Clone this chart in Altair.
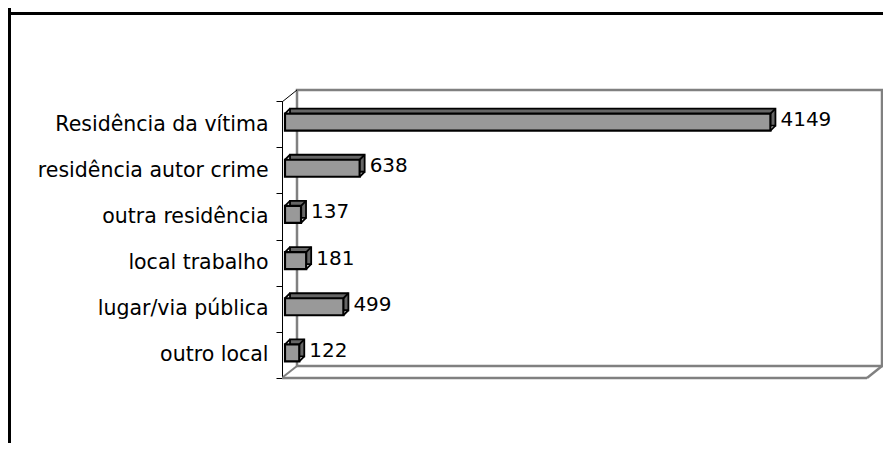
import altair as alt
import pandas as pd

categories = ["Residência da vítima", "residência autor crime", "outra residência",
              "local trabalho", "lugar/via pública", "outro local"]
values = [4149, 638, 137, 181, 499, 122]

df = pd.DataFrame({"cat": categories, "v": values, "z": [0] * len(values)})

W, H = 585, 277
XMAX = 5000
FONT = "DejaVu Sans"
DEPTH = 5
BAR_H = 17
BX = 3      # bar x shift from axis
BY = -2     # bar y shift
one = alt.Data(values=[{"a": 1}])

xs = alt.Scale(domain=[0, XMAX], nice=False, zero=True)
ysort = categories

# outer frame lines (top & left)
border_top = alt.Chart(one).mark_rule(color="black", strokeWidth=3).encode(
    x=alt.value(-274), x2=alt.value(W + 16), y=alt.value(-87.5))
border_left = alt.Chart(one).mark_rule(color="black", strokeWidth=3).encode(
    x=alt.value(-272.5), y=alt.value(-93), y2=alt.value(H + 65))

# back wall
wall = alt.Chart(one).mark_rect(filled=False, stroke="#808080", strokeWidth=2.5).encode(
    x=alt.value(15), x2=alt.value(W + 15), y=alt.value(-11), y2=alt.value(H - 12))
floor_front = alt.Chart(one).mark_rule(color="#808080", strokeWidth=2.5).encode(
    x=alt.value(0), x2=alt.value(W), y=alt.value(H))
floor_right = alt.Chart(one).mark_rule(color="#808080", strokeWidth=2.5).encode(
    x=alt.value(W), x2=alt.value(W + 15), y=alt.value(H), y2=alt.value(H - 12))
floor_left = alt.Chart(one).mark_rule(color="#808080", strokeWidth=2).encode(
    x=alt.value(1), x2=alt.value(15), y=alt.value(H - 1), y2=alt.value(H - 12))
top_diag = alt.Chart(one).mark_rule(color="black", strokeWidth=1).encode(
    x=alt.value(0), x2=alt.value(15), y=alt.value(1), y2=alt.value(-11))

base = alt.Chart(df)
yenc = alt.Y("cat:N", sort=ysort, title=None,
             scale=alt.Scale(paddingInner=0, paddingOuter=0),
             axis=alt.Axis(domain=True, domainColor="black", domainWidth=1,
                           ticks=True, tickBand="extent", tickSize=6, tickColor="black",
                           labelFont=FONT, labelFontSize=20.5, labelColor="black",
                           labelPadding=8, grid=False, labelLimit=400))

bar_back = base.mark_bar(size=BAR_H, fill="#666666", stroke="black", strokeWidth=1.8,
                         xOffset=BX + DEPTH, x2Offset=BX + DEPTH, yOffset=BY - DEPTH).encode(
    x=alt.X("v:Q", scale=xs, axis=None), x2=alt.X2("z"), y=yenc)

diag_tl = base.mark_rule(color="black", strokeWidth=1.8, xOffset=BX, x2Offset=BX + DEPTH,
                         yOffset=BY - BAR_H / 2, y2Offset=BY - BAR_H / 2 - DEPTH).encode(
    x=alt.X("z:Q", scale=xs, axis=None), x2=alt.X2("z"), y=yenc, y2=alt.Y2("cat"))
diag_tr = base.mark_rule(color="black", strokeWidth=1.8, xOffset=BX, x2Offset=BX + DEPTH,
                         yOffset=BY - BAR_H / 2, y2Offset=BY - BAR_H / 2 - DEPTH).encode(
    x=alt.X("v:Q", scale=xs, axis=None), x2=alt.X2("v"), y=yenc, y2=alt.Y2("cat"))
diag_br = base.mark_rule(color="black", strokeWidth=1.8, xOffset=BX, x2Offset=BX + DEPTH,
                         yOffset=BY + BAR_H / 2, y2Offset=BY + BAR_H / 2 - DEPTH).encode(
    x=alt.X("v:Q", scale=xs, axis=None), x2=alt.X2("v"), y=yenc, y2=alt.Y2("cat"))

bar_front = base.mark_bar(size=BAR_H, fill="#999999", stroke="black", strokeWidth=2.2,
                          xOffset=BX, x2Offset=BX, yOffset=BY).encode(
    x=alt.X("v:Q", scale=xs, axis=None), x2=alt.X2("z"), y=yenc)

labels = base.mark_text(align="left", baseline="middle", dx=BX + 10, dy=BY - 2,
                        font=FONT, fontSize=20, color="black").encode(
    x=alt.X("v:Q", scale=xs, axis=None), y=yenc, text=alt.Text("v:Q"))

chart = alt.layer(
    border_top, border_left, wall, floor_front, floor_right, floor_left, top_diag,
    bar_back, diag_tl, diag_tr, diag_br, bar_front, labels
).properties(
    width=W, height=H,
    autosize=alt.AutoSizeParams(type="none"),
    padding={"left": 274, "top": 93, "right": 16, "bottom": 65},
    background="white",
).configure_view(stroke=None)

chart.save("out.html", embed_options={"renderer": "svg", "actions": False})
